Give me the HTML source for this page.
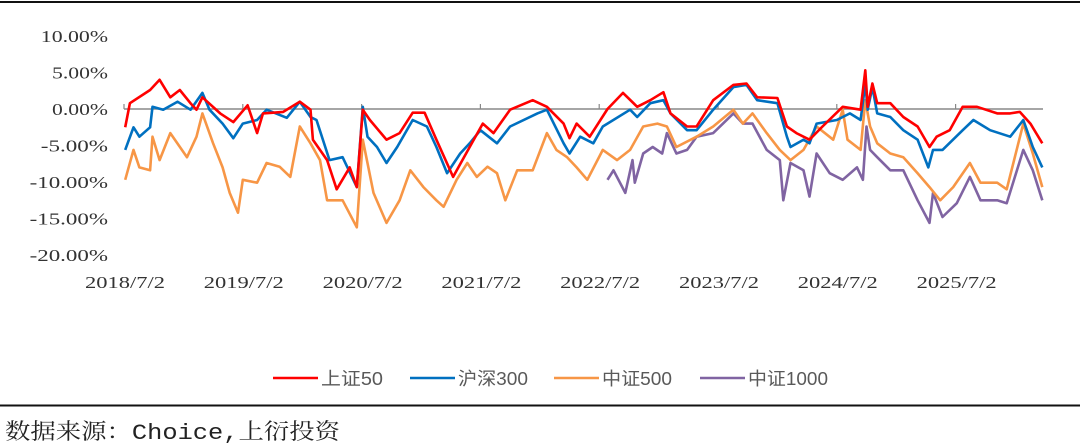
<!DOCTYPE html>
<html><head><meta charset="utf-8">
<style>
body{margin:0;background:#fff;}
svg{display:block;}
</style></head>
<body>
<svg id="chart" width="1080" height="445" viewBox="0 0 1080 445" xmlns="http://www.w3.org/2000/svg">
<line x1="0" y1="2" x2="1080" y2="2" stroke="#111" stroke-width="2"/>
<line x1="0" y1="405.5" x2="1080" y2="405.5" stroke="#111" stroke-width="2"/>
<text x="5" y="439" font-family="'Liberation Mono','Noto Serif CJK SC',monospace" font-size="22" fill="#222" textLength="335" lengthAdjust="spacingAndGlyphs">数据来源：Choice,上衍投资</text>
<g id="yaxis"></g>
<g id="xaxis"></g>
<g id="series"></g>
<g id="legend"></g>
</svg>
<script>
const yTicks = [10, 5, 0, -5, -10, -15, -20];
const xTickLabels = ["2018/7/2","2019/7/2","2020/7/2","2021/7/2","2022/7/2","2023/7/2","2024/7/2","2025/7/2"];
const seriesNames = ["上证50","沪深300","中证500","中证1000"];
// dates in years since 2018/7/2
const sz50Dates = [0.01,0.05,0.22,0.30,0.39,0.47,0.56,0.61,0.66,0.81,0.92,1.04,1.12,1.17,1.34,1.48,1.57,1.59,1.71,1.79,1.90,1.96,2.01,2.07,2.21,2.32,2.43,2.53,2.63,2.77,2.91,3.02,3.11,3.25,3.44,3.56,3.70,3.75,3.81,3.92,4.07,4.20,4.32,4.43,4.54,4.60,4.74,4.82,4.96,5.13,5.24,5.33,5.50,5.58,5.66,5.77,5.88,6.05,6.20,6.24,6.26,6.30,6.34,6.45,6.56,6.68,6.78,6.84,6.95,7.06,7.18,7.35,7.46,7.54,7.63,7.73];
const sz50Values = [-2.5,0.8,2.6,4.0,1.6,2.6,0.8,-0.1,1.6,-0.6,-1.8,0.5,-3.3,-0.6,-0.4,1.0,-0.1,-4.2,-7,-11,-8,-10.7,-0.1,-1.5,-4.2,-3.3,-0.5,-0.5,-4.2,-9.3,-5.2,-2,-3.3,-0.1,1.2,0.3,-2,-4,-2,-3.8,0,2.2,0.3,1.2,2.3,-0.6,-2.4,-2.4,1.2,3.3,3.5,1.6,1.5,-2.4,-3.3,-4.2,-2.4,0.3,-0.1,5.3,0.3,3.5,0.8,0.8,-1.1,-2.4,-5.2,-3.8,-2.9,0.3,0.3,-0.6,-0.6,-0.4,-2,-4.7];
const hs300Dates = [0.01,0.08,0.13,0.22,0.24,0.33,0.45,0.56,0.66,0.72,0.83,0.92,1.00,1.12,1.20,1.37,1.48,1.57,1.62,1.73,1.84,1.96,2.01,2.05,2.13,2.21,2.30,2.43,2.55,2.63,2.72,2.83,2.91,3.00,3.14,3.25,3.48,3.56,3.70,3.75,3.84,3.95,4.03,4.26,4.32,4.43,4.54,4.60,4.74,4.82,4.96,5.13,5.24,5.33,5.50,5.58,5.61,5.72,5.77,5.83,6.00,6.11,6.20,6.24,6.26,6.30,6.34,6.45,6.56,6.68,6.77,6.81,6.89,7.06,7.15,7.29,7.46,7.57,7.65,7.73];
const hs300Values = [-5.6,-2.5,-3.8,-2.5,0.3,-0.1,1.0,-0.1,2.2,-0.1,-2,-4,-2,-1.5,-0.1,-1.2,1.0,-1.1,-1.5,-7,-6.6,-10.7,0.3,-3.8,-5.2,-7.4,-5.2,-1.5,-2.4,-5.2,-8.8,-6.1,-4.7,-2.9,-4.7,-2.4,-0.6,-0.1,-4.7,-6.1,-3.8,-4.7,-2.4,-0.1,-1.1,0.8,1.2,-0.6,-2.9,-2.9,-0.1,3.0,3.3,1.2,0.8,-3.8,-5.2,-4.2,-4.7,-2,-1.5,-0.6,-1.5,3.5,-0.1,3.0,-0.6,-1.1,-2.9,-4.2,-8,-5.6,-5.6,-2.9,-1.5,-2.9,-3.8,-1.5,-5.2,-8];
const zz500Dates = [0.01,0.08,0.13,0.22,0.24,0.30,0.39,0.53,0.61,0.66,0.75,0.83,0.89,0.96,1.00,1.12,1.20,1.31,1.40,1.48,1.57,1.65,1.71,1.84,1.96,2.01,2.10,2.21,2.32,2.41,2.52,2.63,2.69,2.80,2.89,2.97,3.06,3.14,3.21,3.31,3.44,3.56,3.64,3.73,3.81,3.90,4.03,4.15,4.26,4.37,4.49,4.57,4.65,4.82,4.96,5.13,5.21,5.29,5.41,5.52,5.61,5.72,5.83,5.97,6.05,6.09,6.20,6.24,6.28,6.34,6.45,6.56,6.68,6.78,6.87,6.98,7.12,7.21,7.35,7.43,7.57,7.65,7.73];
const zz500Values = [-9.7,-5.6,-8,-8.4,-3.8,-7,-3.3,-6.6,-3.8,-0.6,-4.7,-8,-11.5,-14.2,-9.7,-10.1,-7.4,-7.9,-9.3,-2.4,-4.7,-7,-12.5,-12.5,-16.2,-4.2,-11.5,-15.6,-12.5,-8.4,-10.7,-12.5,-13.4,-9.7,-7.4,-9.3,-7.9,-8.8,-12.5,-8.4,-8.4,-3.3,-5.6,-6.6,-8,-9.7,-5.6,-7,-5.6,-2.4,-2,-2.4,-5.2,-3.8,-2.4,-0.1,-2,-0.6,-3.3,-5.6,-7,-5.6,-2.4,-4.2,-0.1,-4.2,-5.6,1.2,-2.4,-4.7,-6.1,-6.6,-8.8,-10.7,-12.5,-10.7,-7.4,-10.1,-10.1,-11,-2,-6.1,-10.7];
const zz1000Dates = [4.07,4.12,4.22,4.28,4.30,4.37,4.45,4.53,4.57,4.65,4.74,4.82,4.96,5.13,5.21,5.29,5.41,5.52,5.55,5.61,5.72,5.77,5.83,5.94,6.05,6.17,6.22,6.25,6.28,6.34,6.45,6.56,6.68,6.78,6.81,6.89,7.01,7.12,7.21,7.35,7.43,7.57,7.65,7.73];
const zz1000Values = [-9.7,-8.4,-11.5,-7,-10.1,-6.1,-5.2,-6.1,-3.3,-6.1,-5.6,-3.8,-3.3,-0.6,-2,-2,-5.6,-7,-12.5,-7.4,-8.4,-12,-6.1,-8.8,-9.7,-8,-9.7,-2.4,-5.6,-6.6,-8.4,-8.4,-12.5,-15.6,-11.5,-14.8,-12.9,-9.3,-12.5,-12.5,-12.9,-5.6,-8.4,-12.5];
const colors = ["#ff0000","#0070c0","#f79646","#8064a2"];

const NS = "http://www.w3.org/2000/svg";
const X0 = 124, PXY = 118.8, Y0 = 109, PXV = 7.3;
function xScale(t){ return X0 + t * PXY; }
function yScale(v){ return Y0 - v * PXV; }
function mk(tag, attrs, parent){ const e = document.createElementNS(NS, tag); for (const k in attrs) e.setAttribute(k, attrs[k]); parent.appendChild(e); return e; }

const yaxis = document.getElementById('yaxis');
yTicks.forEach(v => {
  const lab = v.toFixed(2) + '%';
  const t = mk('text', {x: 108, y: yScale(v) + 6, 'text-anchor': 'end', 'font-family': "'Liberation Serif',serif", 'font-size': 17, fill: '#333', textLength: lab.length * 11.2, lengthAdjust: 'spacingAndGlyphs'}, yaxis);
  t.textContent = lab;
  
  
});
const xaxis = document.getElementById('xaxis');
const zl = mk('line', {x1: X0, y1: Y0, x2: 1043, y2: Y0, stroke: '#888', 'stroke-width': 1.5}, xaxis);


xTickLabels.forEach((lab, i) => {
  const x = xScale(i);
  const tk = mk('line', {x1: x, y1: Y0, x2: x, y2: Y0 - 5, stroke: '#888', 'stroke-width': 1.2}, xaxis);
  
  
  const t = mk('text', {x: x + 1, y: 288, 'text-anchor': 'middle', 'font-family': "'Liberation Serif',serif", 'font-size': 17, fill: '#333', textLength: 80, lengthAdjust: 'spacingAndGlyphs'}, xaxis);
  t.textContent = lab;
  
  
});
const seriesG = document.getElementById('series');
const allDates = [sz50Dates, hs300Dates, zz500Dates, zz1000Dates];
const allVals = [sz50Values, hs300Values, zz500Values, zz1000Values];
const drawOrder = [3, 2, 1, 0];
drawOrder.forEach(s => {
  const d = allDates[s], v = allVals[s], n = Math.min(d.length, v.length);
  let pts = [];
  for (let i = 0; i < n; i++) pts.push(xScale(d[i]).toFixed(1) + ',' + yScale(v[i]).toFixed(1));
  const p = mk('polyline', {points: pts.join(' '), fill: 'none', stroke: colors[s], 'stroke-width': 2.6, 'stroke-linejoin': 'round'}, seriesG);
  
  
});
const legend = document.getElementById('legend');
const legX = [273, 410, 554, 700];
const legW = [62, 70, 70, 80];
seriesNames.forEach((nm, i) => {
  const l = mk('line', {x1: legX[i], y1: 378, x2: legX[i] + 45, y2: 378, stroke: colors[i], 'stroke-width': 2.6}, legend);
  
  
  const t = mk('text', {x: legX[i] + 48, y: 385, 'font-family': "'Liberation Sans','Noto Sans CJK SC',sans-serif", 'font-size': 18, fill: '#595959', textLength: legW[i], lengthAdjust: 'spacingAndGlyphs'}, legend);
  t.textContent = nm;
  
  
});
</script>
</body></html>
